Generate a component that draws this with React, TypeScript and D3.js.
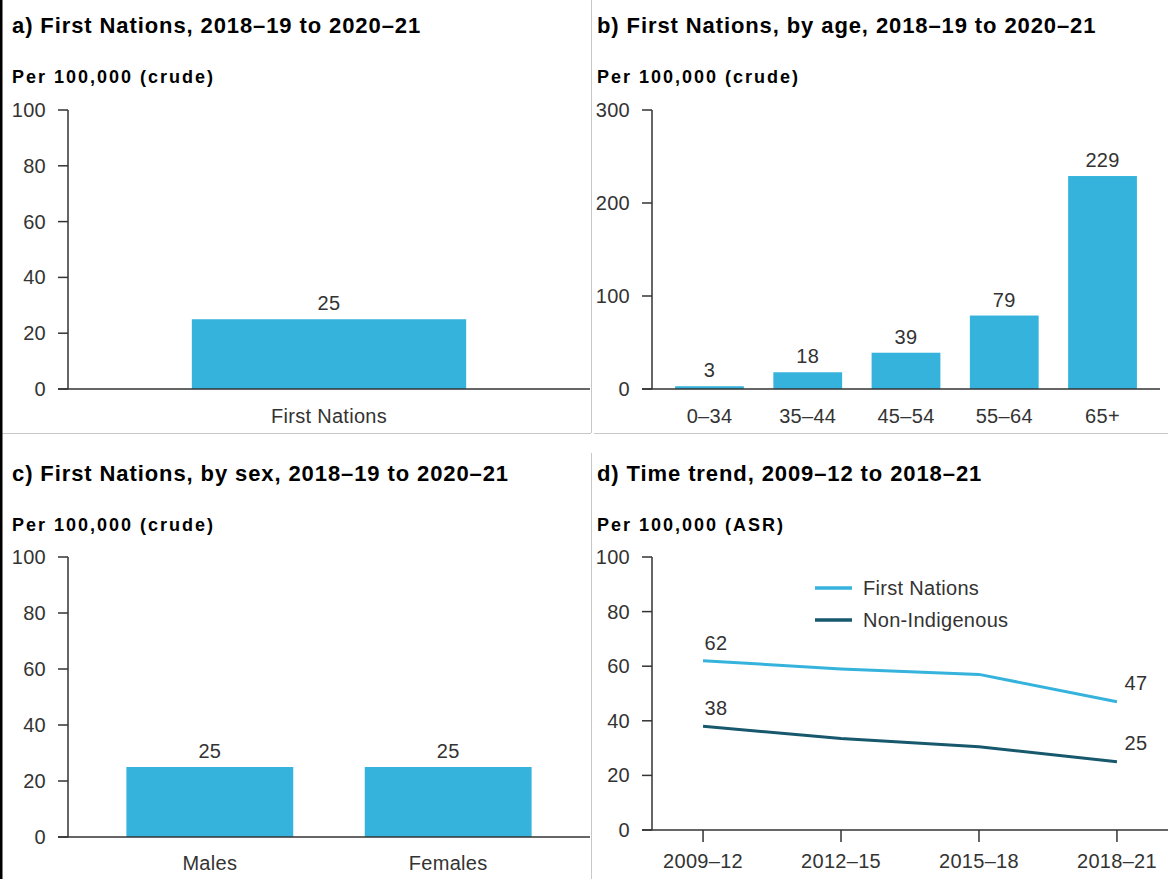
import React from 'react'
import * as d3 from 'd3'

// panel a
const totalCats = ['First Nations']
const totalVals = [25]

// panel b
const ageCats = ['0–34', '35–44', '45–54', '55–64', '65+']
const ageVals = [3, 18, 39, 79, 229]

// panel c
const sexCats = ['Males', 'Females']
const sexVals = [25, 25]

// panel d
const periods = ['2009–12', '2012–15', '2015–18', '2018–21']
const firstNationsTrend = [62, 59, 57, 47]
const nonIndigenousTrend = [38, 33.5, 30.5, 25]

const ticksA = [0, 20, 40, 60, 80, 100]
const ticksB = [0, 100, 200, 300]

const W = 1168
const H = 879
const LIGHT = '#35b3dc'
const DARK = '#17586d'
const AXIS = '#333'
const TXT = '#333'
const FONT = '"Liberation Sans", Arial, sans-serif'
const FS = 20
const LS = 0.3

type BarProps = {
  cats: string[]
  vals: number[]
  ticks: number[]
  x0: number
  x1: number
  yTop: number
  yBase: number
  pInner: number
  pOuter: number
  labelY: number
}

const BarPanel = ({ cats, vals, ticks, x0, x1, yTop, yBase, pInner, pOuter, labelY }: BarProps) => {
  const x = d3.scaleBand().domain(cats).range([x0, x1]).paddingInner(pInner).paddingOuter(pOuter)
  const y = d3.scaleLinear().domain([0, d3.max(ticks) as number]).range([yBase, yTop])
  return (
    <g>
      {cats.map((c, i) => (
        <g key={c}>
          <rect x={x(c)} y={y(vals[i])} width={x.bandwidth()} height={yBase - y(vals[i])} fill={LIGHT} />
          <text x={(x(c) as number) + x.bandwidth() / 2} y={y(vals[i]) - 9} textAnchor="middle" fontSize={FS} letterSpacing={LS} fill={TXT}>
            {vals[i]}
          </text>
          <text x={(x(c) as number) + x.bandwidth() / 2} y={labelY} textAnchor="middle" fontSize={FS} letterSpacing={LS} fill={TXT}>
            {c}
          </text>
        </g>
      ))}
      <line x1={x0} x2={x0} y1={yTop} y2={yBase} stroke={AXIS} strokeWidth={1.5} />
      <line x1={x0 - 10} x2={x1} y1={yBase} y2={yBase} stroke={AXIS} strokeWidth={1.5} />
      {ticks.map((t) => (
        <g key={t}>
          <line x1={x0 - 10} x2={x0} y1={y(t)} y2={y(t)} stroke={AXIS} strokeWidth={1.5} />
          <text x={x0 - 22} y={y(t) + 7} textAnchor="end" fontSize={FS} letterSpacing={LS} fill={TXT}>
            {t}
          </text>
        </g>
      ))}
    </g>
  )
}

const TrendPanel = () => {
  const x0 = 652
  const x1 = 1168
  const yTop = 557
  const yBase = 830
  const x = d3.scalePoint().domain(periods).range([x0, x1]).padding(0.37)
  const y = d3.scaleLinear().domain([0, 100]).range([yBase, yTop])
  const line = d3
    .line<number>()
    .x((_, i) => x(periods[i]) as number)
    .y((d) => y(d))
  const last = periods.length - 1
  return (
    <g>
      <path d={line(firstNationsTrend) as string} fill="none" stroke={LIGHT} strokeWidth={3} />
      <path d={line(nonIndigenousTrend) as string} fill="none" stroke={DARK} strokeWidth={3} />
      {[firstNationsTrend, nonIndigenousTrend].map((s, k) => (
        <g key={k}>
          <text x={(x(periods[0]) as number) + 13} y={y(s[0]) - 11} textAnchor="middle" fontSize={FS} letterSpacing={LS} fill={TXT}>
            {s[0]}
          </text>
          <text x={(x(periods[last]) as number) + 19} y={y(s[last]) - 12} textAnchor="middle" fontSize={FS} letterSpacing={LS} fill={TXT}>
            {s[last]}
          </text>
        </g>
      ))}
      <line x1={x0} x2={x0} y1={yTop} y2={yBase} stroke={AXIS} strokeWidth={1.5} />
      <line x1={x0 - 10} x2={x1} y1={yBase} y2={yBase} stroke={AXIS} strokeWidth={1.5} />
      {ticksA.map((t) => (
        <g key={t}>
          <line x1={x0 - 10} x2={x0} y1={y(t)} y2={y(t)} stroke={AXIS} strokeWidth={1.5} />
          <text x={x0 - 22} y={y(t) + 7} textAnchor="end" fontSize={FS} letterSpacing={LS} fill={TXT}>
            {t}
          </text>
        </g>
      ))}
      {periods.map((p) => (
        <g key={p}>
          <line x1={x(p)} x2={x(p)} y1={yBase} y2={yBase + 12} stroke={AXIS} strokeWidth={1.5} />
          <text x={x(p)} y={yBase + 38} textAnchor="middle" fontSize={FS} letterSpacing={LS} fill={TXT}>
            {p}
          </text>
        </g>
      ))}
      {/* legend */}
      {[
        ['First Nations', LIGHT],
        ['Non-Indigenous', DARK],
      ].map(([name, col], i) => (
        <g key={name} transform={`translate(815,${588 + i * 32})`}>
          <line x1={0} x2={37} y1={0} y2={0} stroke={col} strokeWidth={3.5} />
          <text x={48} y={7} fontSize={FS} letterSpacing={LS} fill={TXT}>
            {name}
          </text>
        </g>
      ))}
    </g>
  )
}

const Titles = ({ x, y, title, sub }: { x: number; y: number; title: string; sub: string }) => (
  <g>
    <text x={x} y={y} fontSize={22} fontWeight="bold" fill="#000" letterSpacing={0.9}>
      {title}
    </text>
    <text x={x} y={y + 50} fontSize={18} fontWeight="bold" fill="#000" letterSpacing={2}>
      {sub}
    </text>
  </g>
)

export default function App() {
  return (
    <svg
      width={W}
      height={H}
      style={{ position: 'absolute', left: 0, top: 0, background: '#fff' }}
      fontFamily={FONT}
    >
      <rect width={W} height={H} fill="#fff" />
      {/* panel frames */}
      <line x1={591.5} x2={591.5} y1={0} y2={433} stroke="#c8c8c8" />
      <line x1={591.5} x2={591.5} y1={453} y2={H} stroke="#c8c8c8" />
      <line x1={0} x2={591} y1={433.5} y2={433.5} stroke="#c8c8c8" />
      <line x1={594} x2={W} y1={433.5} y2={433.5} stroke="#c8c8c8" />
      <rect x={0} y={0} width={2.5} height={H} fill="#000" />

      <Titles x={12} y={33} title="a) First Nations, 2018–19 to 2020–21" sub="Per 100,000 (crude)" />
      <Titles x={597} y={33} title="b) First Nations, by age, 2018–19 to 2020–21" sub="Per 100,000 (crude)" />
      <Titles x={12} y={481} title="c) First Nations, by sex, 2018–19 to 2020–21" sub="Per 100,000 (crude)" />
      <Titles x={597} y={481} title="d) Time trend, 2009–12 to 2018–21" sub="Per 100,000 (ASR)" />

      <BarPanel cats={totalCats} vals={totalVals} ticks={ticksA} x0={68} x1={590} yTop={110} yBase={389} pInner={0.311} pOuter={0.311} labelY={423} />
      <BarPanel cats={ageCats} vals={ageVals} ticks={ticksB} x0={652} x1={1160} yTop={110} yBase={389} pInner={0.3} pOuter={0.235} labelY={423} />
      <BarPanel cats={sexCats} vals={sexVals} ticks={ticksA} x0={68} x1={590} yTop={557} yBase={837} pInner={0.3} pOuter={0.245} labelY={870} />
      <TrendPanel />
    </svg>
  )
}
